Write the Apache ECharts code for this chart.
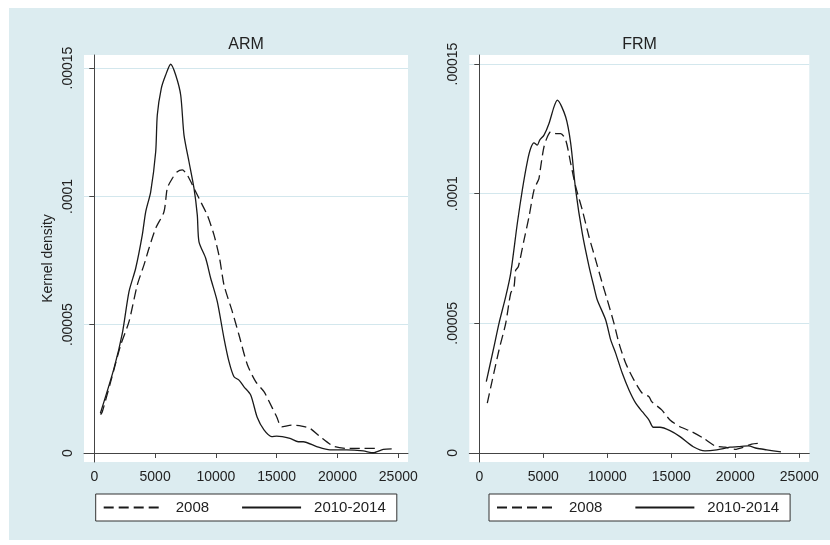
<!DOCTYPE html>
<html>
<head>
<meta charset="utf-8">
<script src="https://cdn.jsdelivr.net/npm/echarts@6/dist/echarts.min.js"></script>
<style>
  html, body { margin: 0; padding: 0; background: #fff; }
  #wrap { position: relative; width: 830px; height: 545px; background: #fff; }
  #main { position: absolute; left: 9px; top: 8px; width: 821px; height: 532px; }
</style>
</head>
<body>
<div id="wrap"><div id="main"></div></div>
<script>
// kernel density curves
var armX2008 = [520, 658, 1349, 2171, 2854, 3536, 4087, 4499, 5050, 5732, 6004, 6415, 6826, 7237, 7649, 8199, 8750, 9293, 9844, 10300, 10667, 11349, 11900, 12583, 13274, 13956, 14310, 15000, 15411, 16234, 17056, 17739, 18562, 19655, 20757, 22123, 23226];
var armY2008 = [1.50e-5, 1.61e-5, 2.78e-5, 4.21e-5, 5.12e-5, 6.55e-5, 7.33e-5, 7.98e-5, 8.76e-5, 9.40e-5, 1.032e-4, 1.070e-4, 1.096e-4, 1.103e-4, 1.083e-4, 1.032e-4, 9.79e-5, 9.27e-5, 8.50e-5, 7.60e-5, 6.55e-5, 5.51e-5, 4.60e-5, 3.45e-5, 2.78e-5, 2.39e-5, 2.07e-5, 1.41e-5, 1.02e-5, 1.09e-5, 1.05e-5, 9.6e-6, 6.4e-6, 2.7e-6, 1.8e-6, 1.8e-6, 1.8e-6];

var armX2010 = [500, 1620, 2303, 2854, 3405, 3948, 4227, 4638, 5050, 5181, 5510, 5870, 6283, 6694, 7105, 7377, 7788, 8199, 8471, 8610, 9162, 9573, 10116, 10667, 11078, 11489, 11900, 12311, 12862, 13405, 13956, 14589, 15000, 16094, 16777, 17188, 18290, 19384, 20757, 22123, 22945, 23767, 24458];
var armY2010 = [1.55e-5, 3.30e-5, 4.66e-5, 6.29e-5, 7.20e-5, 8.50e-5, 9.40e-5, 1.018e-4, 1.174e-4, 1.317e-4, 1.421e-4, 1.473e-4, 1.515e-4, 1.473e-4, 1.395e-4, 1.239e-4, 1.135e-4, 1.032e-4, 9.27e-5, 8.23e-5, 7.59e-5, 6.81e-5, 5.90e-5, 4.47e-5, 3.56e-5, 2.97e-5, 2.84e-5, 2.58e-5, 2.26e-5, 1.38e-5, 9.0e-6, 6.4e-6, 6.6e-6, 5.7e-6, 4.4e-6, 4.4e-6, 2.5e-6, 1.2e-6, 1.2e-6, 8e-7, 1e-7, 1.4e-6, 1.6e-6];

var frmX2008 = [625, 1016, 1539, 2063, 2453, 2711, 2844, 3047, 3492, 3883, 4273, 4609, 4664, 4875, 5055, 5313, 5578, 5969, 6359, 6750, 7141, 7531, 8047, 8570, 9094, 9609, 10000, 10523, 10914, 11438, 12086, 12734, 13258, 13469, 14250, 14898, 15680, 16594, 17500, 18414, 19195, 19977, 20625, 21281, 21797];
var frmY2008 = [1.92e-5, 2.81e-5, 3.97e-5, 5.00e-5, 6.16e-5, 6.41e-5, 7.05e-5, 7.18e-5, 8.21e-5, 9.11e-5, 1.014e-4, 1.052e-4, 1.059e-4, 1.130e-4, 1.181e-4, 1.219e-4, 1.239e-4, 1.232e-4, 1.232e-4, 1.207e-4, 1.117e-4, 1.027e-4, 9.37e-5, 8.34e-5, 7.44e-5, 6.54e-5, 5.90e-5, 5.00e-5, 4.23e-5, 3.46e-5, 2.81e-5, 2.30e-5, 2.17e-5, 1.98e-5, 1.66e-5, 1.27e-5, 1.01e-5, 8.2e-6, 5.7e-6, 2.7e-6, 2.2e-6, 1.4e-6, 2.2e-6, 3.4e-6, 3.7e-6];

var frmX2010 = [547, 1148, 1539, 2063, 2453, 2969, 3359, 3750, 4016, 4273, 4531, 4719, 5055, 5445, 5836, 6094, 6750, 7141, 7531, 8047, 8570, 8960, 9219, 9875, 10266, 10656, 11172, 11695, 12219, 12734, 13258, 13594, 14117, 14898, 15680, 16719, 17633, 18547, 19586, 20234, 21016, 21672, 22453, 23570];
var frmY2010 = [2.75e-5, 4.10e-5, 5.00e-5, 6.03e-5, 6.93e-5, 8.85e-5, 1.014e-4, 1.123e-4, 1.175e-4, 1.196e-4, 1.187e-4, 1.207e-4, 1.226e-4, 1.271e-4, 1.335e-4, 1.361e-4, 1.296e-4, 1.194e-4, 1.014e-4, 8.47e-5, 7.20e-5, 6.40e-5, 5.90e-5, 5.13e-5, 4.36e-5, 3.84e-5, 3.07e-5, 2.43e-5, 1.92e-5, 1.59e-5, 1.27e-5, 9.9e-6, 9.9e-6, 8.6e-6, 6.3e-6, 2.4e-6, 8e-7, 1.2e-6, 2.2e-6, 2.4e-6, 2.7e-6, 1.8e-6, 1.2e-6, 4e-7];

var xTicks = [0, 5000, 10000, 15000, 20000, 25000];
var yTicks = [0, 0.00005, 0.0001, 0.00015];
var yTickLabels = ['0', '.00005', '.0001', '.00015'];
var panelTitles = ['ARM', 'FRM'];
var seriesNames = ['2008', '2010-2014'];

function zip(xs, ys) {
  var out = [];
  for (var i = 0; i < xs.length; i++) out.push([xs[i], ys[i]]);
  return out;
}

var ink = '#1a1a1a';
var font = 'Liberation Sans, Arial, sans-serif';

function xAxisFor(idx, min, max) {
  return {
    type: 'value', gridIndex: idx, min: min, max: max,
    axisLine: { show: true, lineStyle: { color: '#444', width: 1 } },
    axisTick: { show: true, length: 5, lineStyle: { color: '#444' }, customValues: xTicks },
    axisLabel: {
      color: '#222', fontSize: 14, fontFamily: font, margin: 8, customValues: xTicks,
      formatter: function (v) { return String(v); }
    },
    splitLine: { show: false }
  };
}

function yAxisFor(idx, max, name) {
  return {
    type: 'value', gridIndex: idx, min: -0.0000035, max: max,
    name: name, nameLocation: 'middle', nameGap: 29,
    nameTextStyle: { color: '#222', fontSize: 14, fontFamily: font },
    axisLine: { show: true, lineStyle: { color: '#444', width: 1 } },
    axisTick: { show: true, length: 5, lineStyle: { color: '#444' }, customValues: yTicks },
    axisLabel: {
      color: '#222', fontSize: 14, fontFamily: font, rotate: 90, margin: 9,
      customValues: yTicks,
      formatter: function (v) {
        for (var i = 0; i < yTicks.length; i++) if (Math.abs(yTicks[i] - v) < 1e-9) return yTickLabels[i];
        return '';
      }
    },
    splitLine: { show: true, lineStyle: { color: '#d3e7ed', width: 1 } }
  };
}

function lineSeries(name, ax, data, dashed) {
  return {
    name: name, type: 'line', xAxisIndex: ax, yAxisIndex: ax,
    data: data, symbol: 'none', smooth: 0.25, animation: false,
    lineStyle: { color: ink, width: 1.3, type: dashed ? [10, 5] : 'solid' },
    itemStyle: { color: ink }
  };
}

function legendAt(left) {
  return {
    data: seriesNames, left: left, top: 486, orient: 'horizontal',
    padding: [6, 11, 6, 7], itemGap: 32, itemWidth: 59, itemHeight: 14,
    backgroundColor: '#fff', borderColor: '#333', borderWidth: 1, borderRadius: 0,
    selectedMode: false,
    itemStyle: { opacity: 0 },
    textStyle: { color: '#222', fontSize: 15, fontFamily: font, padding: [0, 0, 0, 8] }
  };
}

var myChart = echarts.init(document.getElementById('main'));

var option = {
  backgroundColor: '#dcecf0',
  animation: false,
  title: [
    { text: panelTitles[0], left: 237, top: 29, textAlign: 'center', padding: 0,
      textStyle: { color: '#222', fontSize: 16, fontWeight: 'normal', fontFamily: font } },
    { text: panelTitles[1], left: 630.5, top: 29, textAlign: 'center', padding: 0,
      textStyle: { color: '#222', fontSize: 16, fontWeight: 'normal', fontFamily: font } }
  ],
  legend: [legendAt(86.7), legendAt(480)],
  grid: [
    { left: 75, top: 47, width: 324, height: 407, show: true, backgroundColor: '#fff', borderWidth: 0 },
    { left: 460.3, top: 47, width: 340, height: 407, show: true, backgroundColor: '#fff', borderWidth: 0 }
  ],
  xAxis: [xAxisFor(0, -847, 25800), xAxisFor(1, -781, 25781)],
  yAxis: [yAxisFor(0, 0.0001551, 'Kernel density'), yAxisFor(1, 0.0001535, '')],
  series: [
    lineSeries(seriesNames[0], 0, zip(armX2008, armY2008), true),
    lineSeries(seriesNames[1], 0, zip(armX2010, armY2010), false),
    lineSeries(seriesNames[0], 1, zip(frmX2008, frmY2008), true),
    lineSeries(seriesNames[1], 1, zip(frmX2010, frmY2010), false)
  ]
};

myChart.setOption(option);
</script>
</body>
</html>
